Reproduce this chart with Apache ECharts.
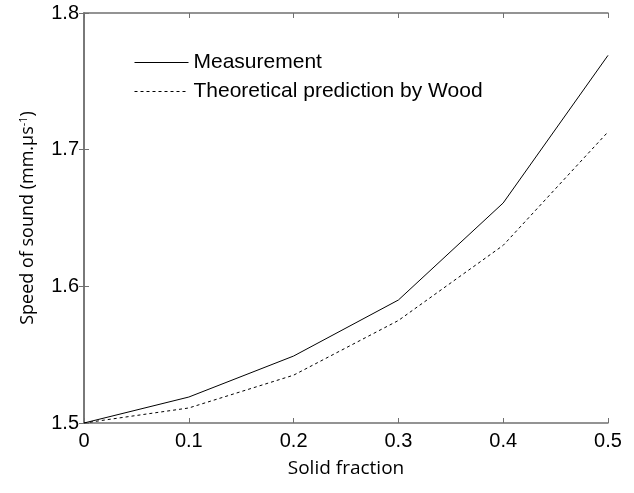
<!DOCTYPE html>
<html>
<head>
<meta charset="utf-8">
<script src="https://cdn.jsdelivr.net/npm/echarts@6/dist/echarts.min.js"></script>
<style>
  html, body { margin: 0; padding: 0; background: #fff; }
  #chart { width: 634px; height: 493px; }
</style>
</head>
<body>
<div id="chart"></div>
<script>
const fraction = [0, 0.1, 0.2, 0.3, 0.4, 0.5]
const measurement = [1.5, 1.519, 1.549, 1.59, 1.661, 1.769]
const wood = [1.5, 1.511, 1.535, 1.575, 1.63, 1.713]

const AXIS = '#707070'
const LABEL_FONT = 'Liberation Sans, Arial, sans-serif'
const NAME_FONT = 'Open Sans, Noto Sans, sans-serif'

const myChart = echarts.init(document.getElementById('chart'))

const pairs = (ys) => fraction.map((x, i) => [x, ys[i]])

const frameAxis = (extra) => Object.assign({
  axisLine: { show: true, lineStyle: { color: AXIS, width: 1.5 } },
  axisTick: { show: true, inside: true, length: 5, lineStyle: { color: AXIS } },
  splitLine: { show: false },
}, extra)

myChart.setOption({
  animation: false,
  grid: { left: 84, right: 26, top: 13, bottom: 70 },
  legend: {
    orient: 'vertical',
    left: 129,
    top: 47,
    itemWidth: 54,
    itemHeight: 14,
    itemGap: 8,
    itemStyle: { opacity: 0 },
    lineStyle: { width: 1 },
    data: ['Measurement', 'Theoretical prediction by Wood'],
    textStyle: { fontSize: 21, color: '#000', fontFamily: LABEL_FONT },
  },
  xAxis: [
    frameAxis({
      type: 'value', min: 0, max: 0.5, interval: 0.1,
      name: 'Solid fraction', nameLocation: 'middle', nameGap: 36,
      nameTextStyle: { fontSize: 19, color: '#000', fontFamily: NAME_FONT },
      axisLabel: { fontSize: 20, color: '#000', fontFamily: LABEL_FONT, margin: 8,
        formatter: (v) => (v === 0 ? '0' : v.toFixed(1)) },
    }),
    frameAxis({
      type: 'value', position: 'top', min: 0, max: 0.5, interval: 0.1,
      axisLabel: { show: false },
    }),
  ],
  yAxis: [
    frameAxis({
      type: 'value', min: 1.5, max: 1.8, interval: 0.1,
      name: '{n|Speed of sound (mm.µs}{s|-1}{n|)}', nameLocation: 'middle', nameGap: 46,
      nameTextStyle: {
        rich: {
          n: { fontSize: 18, color: '#000', fontFamily: NAME_FONT },
          s: { fontSize: 11, color: '#000', fontFamily: NAME_FONT, verticalAlign: 'top', padding: [0, 0, 9, 0] },
        },
      },
      axisLabel: { fontSize: 20, color: '#000', fontFamily: LABEL_FONT, margin: 5,
        formatter: (v) => v.toFixed(1) },
    }),
    frameAxis({
      type: 'value', position: 'right', min: 1.5, max: 1.8, interval: 0.1,
      axisLabel: { show: false },
    }),
  ],
  series: [
    {
      name: 'Measurement', type: 'line', data: pairs(measurement),
      symbol: 'none', lineStyle: { color: '#000', width: 1 }, itemStyle: { color: '#000' },
    },
    {
      name: 'Theoretical prediction by Wood', type: 'line', data: pairs(wood),
      symbol: 'none', lineStyle: { color: '#000', width: 1, type: [3, 3] }, itemStyle: { color: '#000' },
    },
  ],
})
</script>
</body>
</html>
